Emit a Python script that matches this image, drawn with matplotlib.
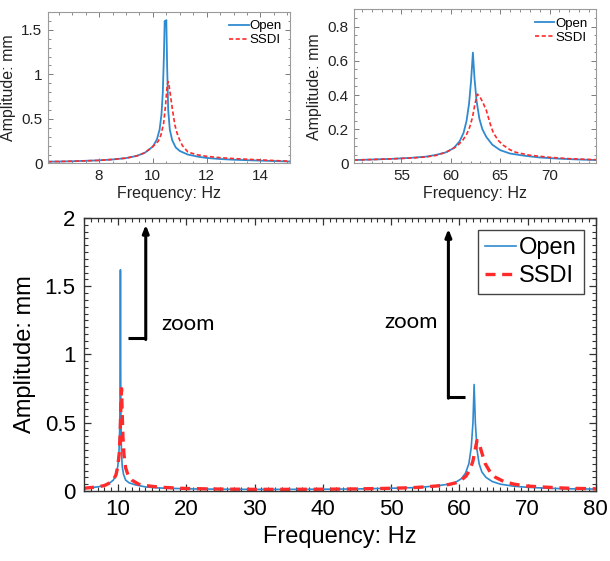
import numpy as np
import matplotlib
matplotlib.use("Agg")
import matplotlib.pyplot as plt
from matplotlib.ticker import MultipleLocator, FormatStrFormatter

plt.rcParams['font.family'] = ['Liberation Sans', 'DejaVu Sans']

# ---- data ----
# zoom on first mode (top left)
f_open_low = [6.1, 7, 8, 8.5, 9, 9.4, 9.7, 10.0, 10.15, 10.25, 10.32, 10.37, 10.41, 10.44,
              10.47, 10.5, 10.53, 10.57, 10.63, 10.72, 10.85, 11.0, 11.3, 11.7, 12, 12.5,
              13, 14, 15.1]
a_open_low = [0.02, 0.025, 0.035, 0.045, 0.06, 0.085, 0.12, 0.19, 0.27, 0.38, 0.55, 0.8,
              1.2, 1.6, 1.55, 1.61, 1.1, 0.6, 0.38, 0.26, 0.18, 0.14, 0.1, 0.075, 0.062,
              0.05, 0.042, 0.032, 0.022]
f_ssdi_low = [6.1, 7, 8, 8.5, 9, 9.4, 9.7, 10.0, 10.2, 10.3, 10.4, 10.47, 10.52, 10.56,
              10.6, 10.66, 10.73, 10.82, 10.9, 11.0, 11.1, 11.3, 11.6, 12, 12.5, 13, 14, 15.1]
a_ssdi_low = [0.02, 0.025, 0.035, 0.045, 0.06, 0.085, 0.12, 0.19, 0.25, 0.32, 0.45, 0.65,
              0.83, 0.92, 0.88, 0.75, 0.6, 0.43, 0.34, 0.26, 0.2, 0.13, 0.1, 0.08, 0.065,
              0.055, 0.04, 0.025]

# zoom on second mode (top right)
f_open_high = [50.2, 52, 54, 56, 57.5, 58.5, 59.5, 60.3, 60.9, 61.3, 61.6, 61.85, 62.05,
               62.24, 62.4, 62.6, 62.9, 63.2, 63.6, 64.2, 65, 66, 67.5, 69, 71, 73, 74.7]
a_open_high = [0.02, 0.023, 0.027, 0.033, 0.04, 0.05, 0.065, 0.09, 0.13, 0.18, 0.25, 0.35,
               0.48, 0.648, 0.5, 0.37, 0.26, 0.2, 0.155, 0.11, 0.078, 0.058, 0.045, 0.035,
               0.028, 0.023, 0.02]
f_ssdi_high = [50.2, 52, 54, 56, 57.5, 58.5, 59.5, 60.0, 60.6, 61.2, 61.6, 61.9, 62.2,
               62.45, 62.7, 62.95, 63.3, 63.6, 64.0, 64.3, 64.8, 65.3, 66, 66.6, 68, 70,
               72, 74.7]
a_ssdi_high = [0.02, 0.023, 0.027, 0.032, 0.038, 0.047, 0.065, 0.08, 0.1, 0.135, 0.17,
               0.21, 0.27, 0.35, 0.405, 0.39, 0.35, 0.31, 0.23, 0.18, 0.135, 0.107, 0.08,
               0.065, 0.048, 0.036, 0.028, 0.022]

# full range (bottom)
f_open_full = [5, 6, 7, 8, 8.8, 9.3, 9.7, 9.95, 10.1, 10.2, 10.27, 10.31, 10.34, 10.37,
               10.41, 10.48, 10.6, 10.8, 11.1, 11.6, 12.5, 14, 16, 20, 25, 30, 35, 40, 45,
               50, 53, 55, 57, 58.5, 59.5, 60.3, 60.9, 61.4, 61.75, 62.0, 62.17, 62.35,
               62.6, 62.9, 63.3, 63.9, 64.8, 66, 68, 70, 73, 76, 80]
a_open_full = [0.02, 0.025, 0.03, 0.04, 0.06, 0.08, 0.12, 0.18, 0.26, 0.38, 0.6, 1.0, 1.62,
               1.0, 0.55, 0.3, 0.18, 0.12, 0.08, 0.06, 0.045, 0.03, 0.022, 0.016, 0.013,
               0.012, 0.012, 0.013, 0.015, 0.02, 0.024, 0.03, 0.04, 0.05, 0.065, 0.09,
               0.13, 0.2, 0.32, 0.5, 0.78, 0.5, 0.3, 0.2, 0.14, 0.1, 0.07, 0.05, 0.035,
               0.027, 0.02, 0.016, 0.014]
f_ssdi_full = [5, 6, 7, 8, 8.8, 9.3, 9.7, 9.95, 10.15, 10.3, 10.42, 10.5, 10.58, 10.7,
               10.85, 11.1, 11.5, 12, 13, 14, 16, 20, 25, 30, 35, 40, 45, 50, 53, 55, 57,
               58.5, 59.5, 60.3, 61.0, 61.6, 62.0, 62.3, 62.6, 62.9, 63.3, 63.8, 64.5,
               65.3, 66.5, 68, 70, 73, 76, 80]
a_ssdi_full = [0.02, 0.025, 0.03, 0.04, 0.06, 0.08, 0.12, 0.18, 0.27, 0.42, 0.65, 0.75,
               0.6, 0.4, 0.27, 0.17, 0.11, 0.08, 0.05, 0.04, 0.028, 0.018, 0.014, 0.012,
               0.012, 0.013, 0.015, 0.02, 0.024, 0.03, 0.038, 0.048, 0.06, 0.08, 0.11,
               0.16, 0.22, 0.3, 0.37, 0.35, 0.28, 0.2, 0.14, 0.1, 0.07, 0.05, 0.036,
               0.027, 0.02, 0.016]

blue = '#2f8ad0'
red = '#ff2a2a'

fig = plt.figure(figsize=(6.1, 5.61), dpi=100)


def style_small(ax, xmaj, xmin, ymaj, ymin):
    for s in ax.spines.values():
        s.set_color('#9a9a9a')
        s.set_linewidth(0.8)
    ax.xaxis.set_major_locator(MultipleLocator(xmaj))
    ax.xaxis.set_minor_locator(MultipleLocator(xmin))
    ax.yaxis.set_major_locator(MultipleLocator(ymaj))
    ax.yaxis.set_minor_locator(MultipleLocator(ymin))
    ax.yaxis.set_major_formatter(FormatStrFormatter('%g'))
    ax.tick_params(which='both', direction='in', top=True, right=True,
                   color='#7a7a7a', labelsize=11, labelcolor='#222222', pad=4)
    ax.tick_params(which='major', length=3.5, width=0.7)
    ax.tick_params(which='minor', length=1.8, width=0.6)
    ax.set_xlabel('Frequency: Hz', fontsize=11.5, labelpad=2, color='#222222')
    ax.set_ylabel('Amplitude: mm', fontsize=11.5, labelpad=4, color='#222222')
    ax.legend(loc='upper right', frameon=False, fontsize=9.5, handlelength=1.5,
              handletextpad=0.1, borderaxespad=0.2, labelspacing=0.15)


# top left
ax1 = fig.add_axes([0.0787, 0.7086, 0.3967, 0.270])
ax1.plot(f_open_low, a_open_low, color=blue, lw=1.3, label='Open')
ax1.plot(f_ssdi_low, a_ssdi_low, color=red, lw=1.2, ls=(0, (2.5, 1.5)), label='SSDI')
ax1.set_xlim(6.1, 15.1)
ax1.set_ylim(0, 1.7)
style_small(ax1, 2, 0.5, 0.5, 0.1)

# top right
ax2 = fig.add_axes([0.5803, 0.7086, 0.3967, 0.2745])
ax2.plot(f_open_high, a_open_high, color=blue, lw=1.3, label='Open')
ax2.plot(f_ssdi_high, a_ssdi_high, color=red, lw=1.2, ls=(0, (2.5, 1.5)), label='SSDI')
ax2.set_xlim(50.2, 74.7)
ax2.set_ylim(0, 0.9)
style_small(ax2, 5, 1, 0.2, 0.05)

# bottom full range
ax3 = fig.add_axes([0.1377, 0.1248, 0.839, 0.4866])
ax3.plot(f_open_full, a_open_full, color=blue, lw=1.2, label='Open')
ax3.plot(f_ssdi_full, a_ssdi_full, color=red, lw=2.4, ls=(0, (3, 2)), label='SSDI')
ax3.set_xlim(5, 80)
ax3.set_ylim(0, 2)
for s in ax3.spines.values():
    s.set_color('#333333')
    s.set_linewidth(1.0)
ax3.xaxis.set_major_locator(MultipleLocator(10))
ax3.xaxis.set_minor_locator(MultipleLocator(1))
ax3.yaxis.set_major_locator(MultipleLocator(0.5))
ax3.yaxis.set_minor_locator(MultipleLocator(0.05))
ax3.yaxis.set_major_formatter(FormatStrFormatter('%g'))
ax3.tick_params(which='both', direction='in', top=True, right=True, color='#333333',
                labelsize=16, pad=6)
ax3.tick_params(which='major', length=5, width=0.9)
ax3.tick_params(which='minor', length=2.8, width=0.8)
ax3.set_xlabel('Frequency: Hz', fontsize=17, labelpad=4)
ax3.set_ylabel('Amplitude: mm', fontsize=17, labelpad=6)
leg = ax3.legend(loc='upper right', fontsize=17, handlelength=1.3, handletextpad=0.15,
                 borderaxespad=0.5, labelspacing=0.25, borderpad=0.3, fancybox=False,
                 framealpha=1)
leg.get_frame().set_edgecolor('#444444')
leg.get_frame().set_linewidth(1.0)

# zoom arrows
ax3.plot([11.4, 14.05], [1.12, 1.12], color='black', lw=2.2, solid_capstyle='butt')
ax3.annotate('', xy=(14.05, 1.95), xytext=(14.05, 1.11),
             arrowprops=dict(arrowstyle='-|>,head_length=0.45,head_width=0.18',
                             color='black', lw=2.2, shrinkA=0, shrinkB=0))
ax3.text(16.4, 1.22, 'zoom', fontsize=16, family=['Lato', 'DejaVu Sans'], va='center')

ax3.plot([58.4, 60.8], [0.69, 0.69], color='black', lw=2.2, solid_capstyle='butt')
ax3.annotate('', xy=(58.4, 1.92), xytext=(58.4, 0.68),
             arrowprops=dict(arrowstyle='-|>,head_length=0.45,head_width=0.18',
                             color='black', lw=2.2, shrinkA=0, shrinkB=0))
ax3.text(56.8, 1.24, 'zoom', fontsize=16, family=['Lato', 'DejaVu Sans'], va='center',
         ha='right')

fig.savefig('out.png', dpi=100)
